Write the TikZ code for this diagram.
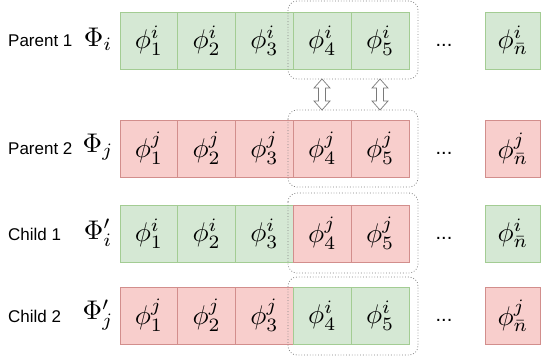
\documentclass[tikz,border=0pt]{standalone}
\usepackage{fontspec}
\newfontfamily\labelfont{Liberation Sans}
\definecolor{gfill}{HTML}{D5E8D4}
\definecolor{gline}{HTML}{A3CC93}
\definecolor{rfill}{HTML}{F8CECC}
\definecolor{rline}{HTML}{D28E8C}
\definecolor{dotgray}{HTML}{808080}
\definecolor{arrgray}{HTML}{7A7A7A}
\newcommand{\cm}[1]{\scalebox{2.7}{$#1$}}
\newcommand{\celldots}{{\labelfont\fontsize{20}{22}\selectfont ...}}
\tikzset{
  cellbase/.style={anchor=north west, minimum width=57.8pt, minimum height=57pt, inner sep=0pt, outer sep=0pt, line width=0.9pt},
  gcell/.style={cellbase, fill=gfill, draw=gline},
  rcell/.style={cellbase, fill=rfill, draw=rline},
  rowlabel/.style={anchor=west, inner sep=0pt, font=\labelfont\fontsize{17}{20}\selectfont},
  philabel/.style={inner sep=0pt},
  dotsbox/.style={draw=dotgray, dotted, line width=0.8pt, rounded corners=9pt},
  swapshape/.style={draw=arrgray, fill=white, line width=0.7pt, line join=miter},
  dotslabel/.style={inner sep=0pt}
}
\begin{document}
\begin{tikzpicture}[x=1pt,y=-1pt]
\useasboundingbox (0,0) rectangle (541,362);
% Row 1: Parent 1
\node[rowlabel] (l1) at (8,41) {Parent 1};
\node[philabel] (p1) at (98,39) {\cm{\Phi_i}};
\node[gcell] (a1) at (120,12) {\cm{\phi^i_1}};
\node[gcell] (a2) at (177.8,12) {\cm{\phi^i_2}};
\node[gcell] (a3) at (235.6,12) {\cm{\phi^i_3}};
\node[gcell] (a4) at (293.4,12) {\cm{\phi^i_4}};
\node[gcell] (a5) at (351.2,12) {\cm{\phi^i_5}};
\node[dotslabel] (ad) at (444,45) {\celldots};
\node[gcell, minimum width=55pt] (an) at (485.5,12) {\cm{\phi^i_{\bar n}}};
% Row 2: Parent 2
\node[rowlabel] (l2) at (8,149) {Parent 2};
\node[philabel] (p2) at (98,147) {\cm{\Phi_j}};
\node[rcell] (b1) at (120,120) {\cm{\phi^j_1}};
\node[rcell] (b2) at (177.8,120) {\cm{\phi^j_2}};
\node[rcell] (b3) at (235.6,120) {\cm{\phi^j_3}};
\node[rcell] (b4) at (293.4,120) {\cm{\phi^j_4}};
\node[rcell] (b5) at (351.2,120) {\cm{\phi^j_5}};
\node[dotslabel] (bd) at (444,153) {\celldots};
\node[rcell, minimum width=55pt] (bn) at (485.5,120) {\cm{\phi^j_{\bar n}}};
% Row 3: Child 1
\node[rowlabel] (l3) at (8,234) {Child 1};
\node[philabel] (p3) at (98,233) {\cm{\Phi'_i}};
\node[gcell] (c1) at (120,205) {\cm{\phi^i_1}};
\node[gcell] (c2) at (177.8,205) {\cm{\phi^i_2}};
\node[gcell] (c3) at (235.6,205) {\cm{\phi^i_3}};
\node[rcell] (c4) at (293.4,205) {\cm{\phi^j_4}};
\node[rcell] (c5) at (351.2,205) {\cm{\phi^j_5}};
\node[dotslabel] (cd) at (444,238) {\celldots};
\node[gcell, minimum width=55pt] (cn) at (485.5,205) {\cm{\phi^i_{\bar n}}};
% Row 4: Child 2
\node[rowlabel] (l4) at (8,316) {Child 2};
\node[philabel] (p4) at (98,315) {\cm{\Phi'_j}};
\node[rcell] (e1) at (120,287) {\cm{\phi^j_1}};
\node[rcell] (e2) at (177.8,287) {\cm{\phi^j_2}};
\node[rcell] (e3) at (235.6,287) {\cm{\phi^j_3}};
\node[gcell] (e4) at (293.4,287) {\cm{\phi^i_4}};
\node[gcell] (e5) at (351.2,287) {\cm{\phi^i_5}};
\node[dotslabel] (ed) at (444,320) {\celldots};
\node[rcell, minimum width=55pt] (en) at (485.5,287) {\cm{\phi^j_{\bar n}}};
% dotted crossover boxes
\draw[dotsbox] (288,1) rectangle (418,79);
\draw[dotsbox] (288,110) rectangle (418,187);
\draw[dotsbox] (288,193) rectangle (418,273);
\draw[dotsbox] (288,277) rectangle (418,355);
% swap arrows (hollow double-headed arrows)
\coordinate (s1) at (322,94.5);
\coordinate (s2) at (380,94.5);
\foreach \s in {s1,s2}{
  \draw[swapshape, shift={(\s)}]
    (0,-15.5) -- (8,-6.5) -- (3.5,-6.5) -- (3.5,6.5) -- (8,6.5) -- (0,15.5)
    -- (-8,6.5) -- (-3.5,6.5) -- (-3.5,-6.5) -- (-8,-6.5) -- cycle;
}
\end{tikzpicture}
\end{document}
